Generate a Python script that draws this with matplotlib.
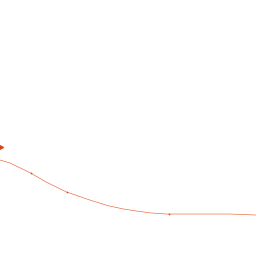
import numpy as np
import matplotlib
matplotlib.use("Agg")
import matplotlib.pyplot as plt

# curve values (x from 0 to 1, y as fraction of the axis height)
x = [0.0, 0.04, 0.12, 0.18, 0.26, 0.35, 0.42, 0.48, 0.53, 0.59, 0.65, 0.72, 0.78, 0.90, 1.0]
y = [0.375, 0.363, 0.324, 0.289, 0.250, 0.219, 0.197, 0.184, 0.176, 0.168, 0.164, 0.164, 0.164, 0.164, 0.160]

# small tick marks along the curve
mark_x = [0.12, 0.26, 0.66]
mark_y = [0.324, 0.250, 0.166]

# point at the left edge
start_x = [0.0]
start_y = [0.424]

fig = plt.figure(figsize=(2.56, 2.56), dpi=100)
ax = fig.add_axes([0, 0, 1, 1])

ax.plot(x, y, color="#ec6234", linewidth=0.45)
ax.plot(mark_x, mark_y, linestyle="none", marker="+", markersize=2,
        markeredgewidth=0.5, color="#e04a1e")
ax.plot(start_x, start_y, linestyle="none", marker=">", markersize=4.5,
        color="#d84315", clip_on=False)

ax.set_xlim(0, 1)
ax.set_ylim(0, 1)
ax.axis("off")

fig.savefig("out.png", dpi=100, facecolor="white")
